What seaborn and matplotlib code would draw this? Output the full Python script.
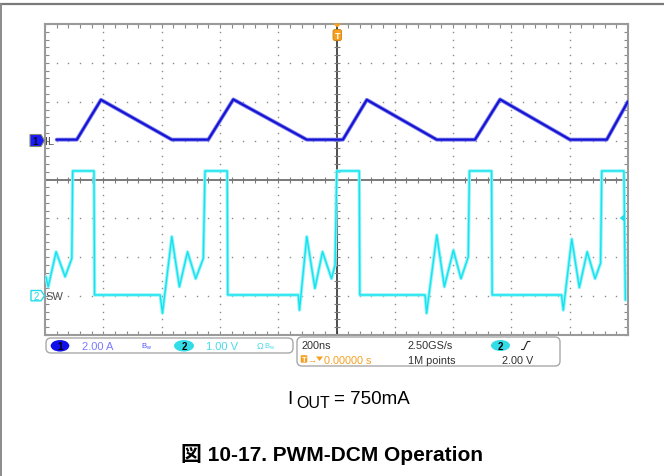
import numpy as np
import pandas as pd
import matplotlib
matplotlib.use("Agg")
import matplotlib.pyplot as plt
import seaborn as sns
from matplotlib.patches import FancyBboxPatch, Ellipse, Polygon

# =============================================================================
# SCOPE SETTINGS AND CAPTURED WAVEFORMS
# =============================================================================

ns_per_div = 200
amps_per_div = 2.0
volts_per_div = 1.0
ch1_offset = 1.0    # CH1 ground marker, divisions above centre
ch2_offset = -3.0   # CH2 ground marker

# CH1: inductor current IL (time in ns, trigger at 0)
il_time = [-960, -891, -808, -565, -440, -354, -102, 22, 104, 344,
           475, 561, 801, 927, 1000]
il_amps = [0.05, 0.05, 2.10, 0.05, 0.05, 2.12, 0.05, 0.05, 2.10, 0.05,
           0.05, 2.12, 0.05, 0.05, 2.02]

# CH2: switch node SW
sw_time = [-997, -989, -962, -931, -908, -905, -832, -830, -605, -597,
           -565, -539, -511, -483, -457, -451, -375, -373, -131, -127,
           -102, -74, -48, -17, -5, 1, 78, 80, 304, 309,
           344, 370, 401, 427, 452, 456, 532, 534, 772, 778,
           807, 833, 860, 887, 906, 910, 986, 991]
sw_volts = [0.50, 0.24, 1.14, 0.50, 0.97, 3.22, 3.22, 0.03, 0.03, -0.44,
            1.53, 0.24, 1.14, 0.45, 0.97, 3.22, 3.22, 0.03, 0.03, -0.36,
            1.53, 0.20, 1.14, 0.45, 0.80, 3.22, 3.22, 0.03, 0.03, -0.44,
            1.57, 0.24, 1.18, 0.45, 1.01, 3.22, 3.22, 0.03, 0.03, -0.36,
            1.47, 0.22, 1.14, 0.45, 0.85, 3.22, 3.22, -0.10]

il = pd.DataFrame({"t": il_time, "div": np.array(il_amps) / amps_per_div + ch1_offset})
sw = pd.DataFrame({"t": sw_time, "div": np.array(sw_volts) / volts_per_div + ch2_offset})

# =============================================================================
# FIGURE
# =============================================================================

sns.set_theme(style="white")
plt.rcParams["font.family"] = ["Liberation Sans", "Noto Sans CJK JP", "DejaVu Sans"]

W, H = 664, 477
fig = plt.figure(figsize=(W / 100, H / 100), dpi=100)
fig.patch.set_facecolor("white")

# scope graticule: 10 x 8 divisions
ax = fig.add_axes([45 / W, 1 - 336 / H, 583 / W, 311 / H])
ax.set_xlim(-5 * ns_per_div, 5 * ns_per_div)
ax.set_ylim(-4, 4)

# dotted grid lines
grid_x = [t for t in range(-800, 801, 200) if t != 0]
grid_y = [v for v in range(-3, 4) if v != 0]
yy = np.arange(-4, 4.001, 0.2)
xx = np.arange(-1000, 1001, 40)
for t in grid_x:
    ax.plot([t] * len(yy), yy, ls="none", marker="s", ms=1.0, mew=0, color="#8a8a8a", zorder=1)
for v in grid_y:
    ax.plot(xx, [v] * len(xx), ls="none", marker="s", ms=1.0, mew=0, color="#8a8a8a", zorder=1)

# centre cross with ticks
ax.axhline(0, color="#7a7a7a", lw=1.4, zorder=2)
ax.plot(xx, [0] * len(xx), ls="none", marker="|", ms=5, mew=0.8, color="#7a7a7a", zorder=2)
ax.axvline(0, color="#1e1e1e", lw=1.1, zorder=2)
ax.plot([0] * len(yy), yy, ls="none", marker="_", ms=5, mew=0.8, color="#7a7a7a", zorder=2)

# traces
sns.lineplot(data=sw, x="t", y="div", sort=False, estimator=None,
             color="#8ff3f8", lw=2.4, ax=ax, zorder=3)
sns.lineplot(data=sw, x="t", y="div", sort=False, estimator=None,
             color="#14e3ef", lw=1.0, ax=ax, zorder=4)
sns.lineplot(data=il, x="t", y="div", sort=False, estimator=None,
             color="#7a7af2", lw=2.8, ax=ax, zorder=5)
sns.lineplot(data=il, x="t", y="div", sort=False, estimator=None,
             color="#1414d0", lw=1.5, ax=ax, zorder=6)

ax.set_xlabel("")
ax.set_ylabel("")
ax.set_xticks(xx)
ax.set_yticks(yy)
ax.tick_params(direction="in", length=3, width=0.8, color="#8a8a8a",
               top=True, right=True, bottom=True, left=True,
               labelbottom=False, labelleft=False)
for s in ax.spines.values():
    s.set_color("#9a9a9a")
    s.set_linewidth(1.5)

# =============================================================================
# OVERLAY (markers, status bar, captions) in pixel coordinates
# =============================================================================

ov = fig.add_axes([0, 0, 1, 1], zorder=10)
ov.set_xlim(0, W)
ov.set_ylim(H, 0)
ov.axis("off")

# page frame
ov.plot([0, W], [4.7, 4.7], color="#7a7a7a", lw=1.6)
ov.plot([0.8, 0.8], [4.7, H], color="#8a8a8a", lw=1.4)

orange = "#f5a021"
cyan = "#22dce8"

# trigger position marker
ov.add_patch(Polygon([(333, 24.5), (341.5, 24.5), (337.2, 28.5)], closed=True, fc=orange, ec="none"))
ov.add_patch(FancyBboxPatch((333, 30.5), 8.5, 11, boxstyle="round,pad=0,rounding_size=2",
                            fc=orange, ec="#d08010", lw=0.6))
ov.text(337.3, 36.3, "T", color="white", fontsize=6.5, fontweight="bold", ha="center", va="center")

# trigger level marker
ov.add_patch(Polygon([(619.5, 219), (625, 215), (625, 223)], closed=True, fc=cyan, ec="none"))

# channel ground markers
ov.add_patch(Polygon([(30, 135.5), (41, 135.5), (44.5, 141.5), (41, 147.5), (30, 147.5)],
                     closed=True, fc="#1a1aff", ec="#8a8a6a", lw=0.8))
ov.text(35.5, 141.8, "1", color="#101010", fontsize=7, fontweight="bold", ha="center", va="center")
ov.text(45.5, 142, "IL", color="#505050", fontsize=8, ha="left", va="center")

ov.add_patch(Polygon([(31, 291.5), (41, 291.5), (44.5, 296.7), (41, 301.8), (31, 301.8)],
                     closed=True, fc="white", ec=cyan, lw=1.0))
ov.text(36.2, 297, "2", color=cyan, fontsize=7, ha="center", va="center")
ov.text(45.5, 297, "SW", color="#505050", fontsize=8, ha="left", va="center")

# status bar, channel box
ov.add_patch(FancyBboxPatch((46, 339), 247, 15, boxstyle="round,pad=0,rounding_size=5",
                            fc="white", ec="#a8a8a8", lw=1.0))
ov.add_patch(Ellipse((60, 346.8), 18.6, 11.5, fc="#1010e8", ec="none"))
ov.text(60, 347, "1", color="black", fontsize=7, fontweight="bold", ha="center", va="center")
ov.text(81.5, 347, "2.00 A", color="#7a7aff", fontsize=8, ha="left", va="center")
ov.text(141, 346.5, r"$\mathregular{B_w}$", color="#5050ff", fontsize=5.5, ha="left", va="center")
ov.add_patch(Ellipse((184, 346.8), 20, 11.5, fc="#33dde8", ec="none"))
ov.text(184, 347, "2", color="black", fontsize=7, fontweight="bold", ha="center", va="center")
ov.text(206.5, 347, "1.00 V", color="#4ad8e8", fontsize=8, ha="left", va="center")
ov.text(256.5, 346.5, "Ω", color="#4ad8e8", fontsize=6.5, ha="left", va="center")
ov.text(264.5, 346.5, r"$\mathregular{B_w}$", color="#4ad8e8", fontsize=5.5, ha="left", va="center")

# status bar, timebase / trigger box
ov.add_patch(FancyBboxPatch((297, 338), 263, 29, boxstyle="round,pad=0,rounding_size=5",
                            fc="white", ec="#a8a8a8", lw=1.0))
ov.text(301, 346.3, "200ns", color="#303030", fontsize=7.8, ha="left", va="center")
ov.text(408, 346.3, "2.50GS/s", color="#303030", fontsize=7.8, ha="left", va="center")
ov.add_patch(Ellipse((500.5, 346.5), 19, 11, fc="#33dde8", ec="none"))
ov.text(500.5, 346.7, "2", color="black", fontsize=7, fontweight="bold", ha="center", va="center")
ov.plot([521.5, 523.8, 527.5, 530], [350.5, 350.5, 342.5, 342.5], color="#202020", lw=0.8)

ov.add_patch(FancyBboxPatch((300.7, 356.2), 6.6, 7.5, boxstyle="round,pad=0,rounding_size=1",
                            fc=orange, ec="none"))
ov.text(304, 360.2, "T", color="white", fontsize=5.5, fontweight="bold", ha="center", va="center")
ov.text(307.5, 360.5, "→", color=orange, fontsize=6.5, ha="left", va="center")
ov.add_patch(Polygon([(316, 357.5), (323, 357.5), (319.5, 362)], closed=True, fc=orange, ec="none"))
ov.text(323.5, 360.7, "0.00000 s", color=orange, fontsize=7.8, ha="left", va="center")
ov.text(408, 360.7, "1M points", color="#303030", fontsize=7.8, ha="left", va="center")
ov.text(502, 360.7, "2.00 V", color="#303030", fontsize=7.8, ha="left", va="center")

# captions
ov.text(287.5, 404.5, "I", color="black", fontsize=13.5, ha="left", va="baseline")
ov.text(296.5, 408, "OUT", color="black", fontsize=11.5, ha="left", va="baseline")
ov.text(334, 404.5, "= 750mA", color="black", fontsize=13.5, ha="left", va="baseline")
ov.text(332, 461.5, "図 10-17. PWM-DCM Operation", color="black", fontsize=15,
        fontweight="bold", ha="center", va="baseline")

fig.savefig("out.png", dpi=100, facecolor="white")
